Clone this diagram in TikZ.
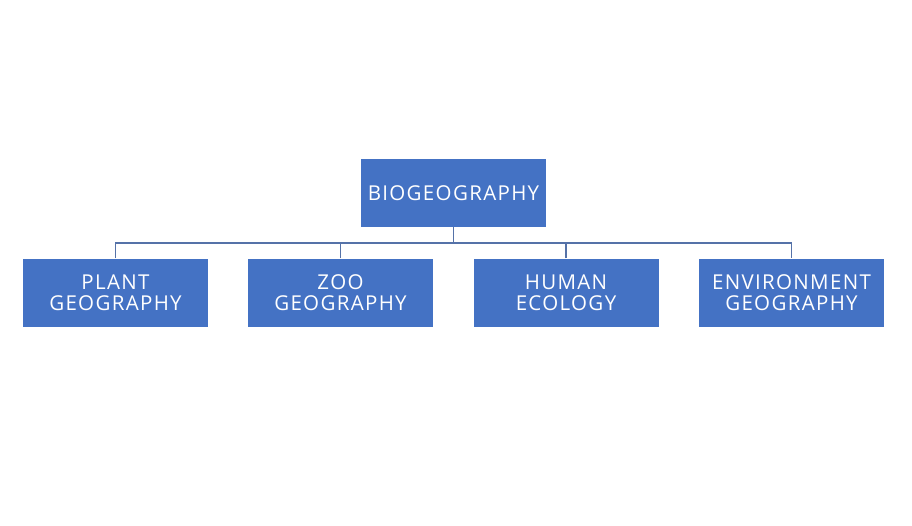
\documentclass[tikz,border=0pt]{standalone}
\usepackage{fontspec}
\setmainfont{Open Sans}[LetterSpace=6.5]
\usepackage{xcolor}
\usetikzlibrary{calc}
\definecolor{boxblue}{HTML}{4472C4}
\definecolor{linkblue}{HTML}{5572A8}

\begin{document}
\begin{tikzpicture}[x=1pt, y=-1pt,
  topicbox/.style={fill=boxblue, draw=none, minimum width=185pt, minimum height=68pt,
    inner sep=0pt, text=white, font=\fontsize{20.5}{21.5}\selectfont, align=center},
  link/.style={linkblue, line width=1.5pt}]
  % Page frame
  \useasboundingbox (0,0) rectangle (912,525);

  % Root box
  \node[topicbox] (bio) at (453.5,193) {BIOGEOGRAPHY};

  % Child boxes
  \node[topicbox] (plant) at (115.5,292.5) {PLANT\\GEOGRAPHY};
  \node[topicbox] (zoo) at (340.5,292.5) {ZOO\\GEOGRAPHY};
  \node[topicbox] (human) at (566,292.5) {HUMAN\\ECOLOGY};
  \node[topicbox] (env) at (791.5,292.5) {ENVIRONMENT\\GEOGRAPHY};

  % Connectors
  \coordinate (bus) at ($(bio.south)+(0,16)$);
  \draw[link] (bio.south) -- (bus);
  \draw[link] (plant.north) -- (plant.north |- bus) -- (env.north |- bus) -- (env.north);
  \draw[link] (zoo.north) -- (zoo.north |- bus);
  \draw[link] (human.north) -- (human.north |- bus);
\end{tikzpicture}
\end{document}
